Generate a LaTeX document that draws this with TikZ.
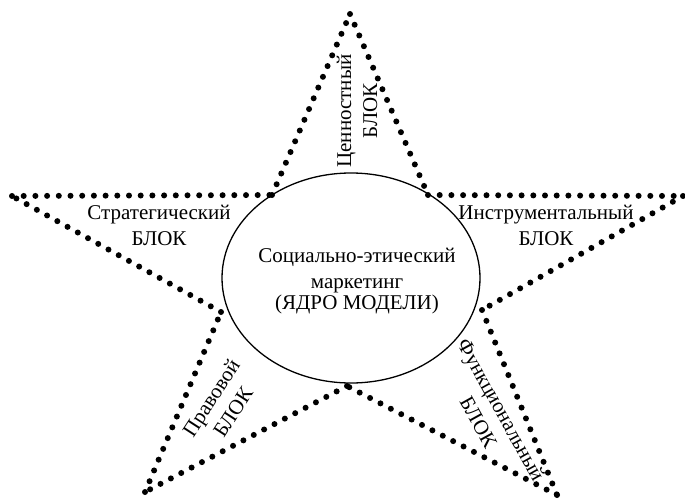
\documentclass[tikz,border=0pt]{standalone}
\usepackage{fontspec}
\setmainfont{Liberation Serif}
\usetikzlibrary{shapes.geometric}
\begin{document}
\begin{tikzpicture}[x=1pt,y=-1pt,
  dotline/.style={line width=6pt, line cap=round, dash pattern=on 0pt off 11.7pt},
  lbl/.style={font=\fontsize{21}{26}\selectfont, align=center, inner sep=0pt}]
\useasboundingbox (0,0) rectangle (685,500);
\coordinate (T) at (350,14);
\coordinate (UR) at (428,195);
\coordinate (R) at (683,196);
\coordinate (RL) at (482,310);
\coordinate (BR) at (557,495);
\coordinate (B) at (347,386);
\coordinate (BL) at (145,492);
\coordinate (LL) at (221,312);
\coordinate (L) at (12,196);
\coordinate (UL) at (272,195);
\foreach \a/\b in {T/UR,UR/R,R/RL,RL/BR,BR/B,B/BL,BL/LL,LL/L,L/UL,UL/T}
  \draw[dotline] (\a) -- (\b);
\node[draw, ellipse, line width=1.3pt, minimum width=258pt, minimum height=210pt] (core) at (351,278) {};
\node[lbl, font=\fontsize{21}{21}\selectfont] (coretext) at (357,281) {Социально-этический\\[5pt]маркетинг\\(ЯДРО МОДЕЛИ)};
\node[lbl] (strat) at (159,225) {Стратегический\\БЛОК};
\node[lbl] (instr) at (546,225) {Инструментальный\\БЛОК};
\node[lbl, rotate=90] (cenn) at (357,111) {Ценностный\\БЛОК};
\node[lbl, rotate=57] (prav) at (222,405) {Правовой\\БЛОК};
\node[lbl, rotate=-61] (func) at (490,416) {Функциональный\\БЛОК};
\end{tikzpicture}
\end{document}
